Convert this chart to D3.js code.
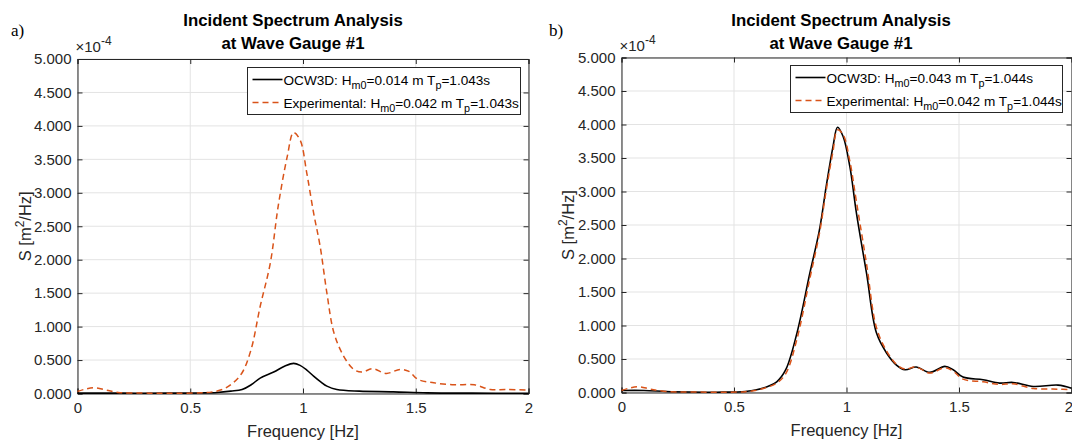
<!DOCTYPE html>
<html><head><meta charset="utf-8">
<script src="https://cdn.jsdelivr.net/npm/d3@7"></script>
<style>body{margin:0;background:#fff}text{font-family:"Liberation Sans",Arial,sans-serif}</style>
</head><body><svg id="c" width="1072" height="440"></svg>
<script>
const xTicks = [0, 0.5, 1, 1.5, 2];
const yTicks = [0, 0.5, 1, 1.5, 2, 2.5, 3, 3.5, 4, 4.5, 5];
const titleLines = ["Incident Spectrum Analysis", "at Wave Gauge #1"];
const panelLabels = ["a)", "b)"];

// values in units of 1e-4 m^2/Hz
const freqOcwA = [0,0.2,0.4,0.55,0.62,0.68,0.73,0.77,0.81,0.87,0.92,0.958,0.987,1.017,1.047,1.08,1.106,1.15,1.25,1.40,1.55,1.75,2.0];
const ocwA = [0.005,0.005,0.005,0.008,0.015,0.035,0.06,0.13,0.23,0.32,0.41,0.45,0.42,0.35,0.26,0.17,0.11,0.06,0.035,0.025,0.01,0.005,0.003];
const freqExpA = [0,0.04,0.08,0.13,0.18,0.25,0.35,0.45,0.55,0.6,0.65,0.69,0.73,0.77,0.81,0.855,0.89,0.93,0.958,0.987,1.017,1.047,1.076,1.106,1.137,1.18,1.225,1.26,1.31,1.37,1.43,1.47,1.51,1.58,1.67,1.76,1.83,1.90,2.0];
const expA = [0.03,0.07,0.085,0.05,0.015,0.008,0.005,0.005,0.01,0.025,0.07,0.16,0.31,0.66,1.30,1.95,2.80,3.54,3.90,3.79,3.29,2.70,2.20,1.50,0.91,0.56,0.36,0.32,0.37,0.30,0.36,0.33,0.21,0.16,0.13,0.13,0.06,0.06,0.05];
const freqOcwB = [0,0.1,0.2,0.3,0.45,0.55,0.6,0.65,0.69,0.73,0.78,0.837,0.88,0.91,0.94,0.96,0.985,1.015,1.044,1.089,1.133,1.178,1.222,1.26,1.31,1.37,1.437,1.474,1.518,1.607,1.68,1.74,1.83,1.94,2.0];
const ocwB = [0.03,0.03,0.015,0.008,0.005,0.015,0.04,0.09,0.16,0.34,0.89,1.78,2.43,3.08,3.67,3.96,3.82,3.37,2.68,1.78,0.89,0.59,0.41,0.34,0.38,0.30,0.39,0.34,0.23,0.19,0.14,0.15,0.09,0.11,0.065];
const freqExpB = [0,0.04,0.08,0.13,0.2,0.3,0.45,0.55,0.6,0.65,0.69,0.73,0.78,0.837,0.88,0.91,0.94,0.96,0.985,1.015,1.044,1.089,1.133,1.178,1.222,1.26,1.31,1.37,1.437,1.474,1.518,1.607,1.68,1.74,1.83,1.94,2.0];
const expB = [0.03,0.07,0.085,0.05,0.015,0.008,0.005,0.012,0.035,0.08,0.14,0.28,0.80,1.70,2.38,3.02,3.60,3.92,3.85,3.45,2.85,1.92,0.97,0.62,0.42,0.35,0.38,0.29,0.37,0.32,0.20,0.16,0.12,0.13,0.06,0.05,0.04];
const legendA = [["OCW3D: H","m0","=0.014 m T","p","=1.043s"],["Experimental: H","m0","=0.042 m T","p","=1.043s"]];
const legendB = [["OCW3D: H","m0","=0.043 m T","p","=1.044s"],["Experimental: H","m0","=0.042 m T","p","=1.044s"]];

const svg = d3.select("#c");
const AX = "#262626", ORANGE = "#D95319";

function panel(cfg){
  const x = d3.scaleLinear().domain([0,2]).range([cfg.x0, cfg.x1]);
  const y = d3.scaleLinear().domain([0,5]).range([cfg.y0, cfg.y1]);
  const g = svg.append("g");
  // grid
  g.selectAll(".gx").data(xTicks).enter().append("line")
    .attr("x1",d=>x(d)).attr("x2",d=>x(d)).attr("y1",cfg.y0).attr("y2",cfg.y1)
    .attr("stroke","#e3e3e3").attr("stroke-width",1);
  g.selectAll(".gy").data(yTicks).enter().append("line")
    .attr("y1",d=>y(d)).attr("y2",d=>y(d)).attr("x1",cfg.x0).attr("x2",cfg.x1)
    .attr("stroke","#e3e3e3").attr("stroke-width",1);
  // axes
  const ax = g.append("g").attr("transform",`translate(0,${cfg.y0})`)
    .call(d3.axisBottom(x).tickValues(xTicks).tickSize(-5).tickPadding(9).tickFormat(d3.format("")));
  const ay = g.append("g").attr("transform",`translate(${cfg.x0},0)`)
    .call(d3.axisLeft(y).tickValues(yTicks).tickSize(-5).tickPadding(6).tickFormat(d3.format(".3f")));
  const axt = g.append("g").attr("transform",`translate(0,${cfg.y1})`)
    .call(d3.axisTop(x).tickValues(xTicks).tickSize(-5).tickFormat(""));
  const ayr = g.append("g").attr("transform",`translate(${cfg.x1},0)`)
    .call(d3.axisRight(y).tickValues(yTicks).tickSize(-5).tickFormat(""));
  [ax,ay,axt,ayr].forEach(a=>{
    a.select(".domain").attr("stroke",AX).attr("stroke-width",1);
    a.selectAll(".tick line").attr("stroke",AX);
    a.selectAll("text").attr("fill",AX).style("font-size","15px").style("font-family",'"Liberation Sans",Arial,sans-serif');
  });
  if (cfg.clipLast) {
    ax.selectAll(".tick").filter(d=>d===2).select("text").attr("text-anchor","end").attr("x",1);
  }
  // lines
  const line = d3.line().x(d=>x(d[0])).y(d=>y(d[1])).curve(d3.curveCatmullRom.alpha(0.5));
  g.append("path").datum(d3.zip(cfg.fo, cfg.o)).attr("d",line)
    .attr("fill","none").attr("stroke","#000").attr("stroke-width",1.6);
  g.append("path").datum(d3.zip(cfg.fe, cfg.e)).attr("d",line)
    .attr("fill","none").attr("stroke",ORANGE).attr("stroke-width",1.5).attr("stroke-dasharray","6,4");
  // exponent
  const ex = g.append("text").attr("x",cfg.x0-2).attr("y",cfg.y1-7).attr("fill",AX).style("font-size","15px");
  ex.append("tspan").text("×10");
  ex.append("tspan").attr("dy",-7).style("font-size","12px").text("-4");
  // axis labels
  g.append("text").attr("x",(cfg.x0+cfg.x1)/2).attr("y",cfg.y0+43).attr("text-anchor","middle")
    .attr("fill",AX).style("font-size","16.5px").text("Frequency [Hz]");
  const yl = g.append("text").attr("transform",`translate(${cfg.ylx},${(cfg.y0+cfg.y1)/2}) rotate(-90)`)
    .attr("text-anchor","middle").attr("fill",AX).style("font-size","16.5px");
  yl.append("tspan").text("S [m");
  yl.append("tspan").attr("dy",-7).style("font-size","12px").text("2");
  yl.append("tspan").attr("dy",7).text("/Hz]");
  // title
  titleLines.forEach((t,i)=>{
    g.append("text").attr("x",cfg.tx).attr("y",26+i*23).attr("text-anchor","middle")
      .attr("fill","#000").style("font-size","16.8px").style("font-weight","bold").text(t);
  });
  g.append("text").attr("x",cfg.px).attr("y",36).attr("fill","#000")
    .style("font-family",'"Liberation Serif","DejaVu Serif",serif').style("font-size","17px").text(cfg.label);
  // legend
  const lg = g.append("g");
  lg.append("rect").attr("x",cfg.lx).attr("y",cfg.ly).attr("width",cfg.lw).attr("height",47)
    .attr("fill","#fff").attr("stroke",AX).attr("stroke-width",1);
  cfg.leg.forEach((parts,i)=>{
    const yy = cfg.ly + 12 + i*23;
    lg.append("line").attr("x1",cfg.lx+5).attr("x2",cfg.lx+35).attr("y1",yy).attr("y2",yy)
      .attr("stroke", i===0?"#000":ORANGE).attr("stroke-width",i===0?1.6:1.5)
      .attr("stroke-dasharray", i===0?null:"6,4");
    const t = lg.append("text").attr("x",cfg.lx+36).attr("y",yy+5).attr("fill","#000").style("font-size","13.6px");
    t.append("tspan").text(parts[0]);
    t.append("tspan").attr("dy",4.5).style("font-size","10.8px").text(parts[1]);
    t.append("tspan").attr("dy",-4.5).text(parts[2]);
    t.append("tspan").attr("dy",4.5).style("font-size","10.8px").text(parts[3]);
    t.append("tspan").attr("dy",-4.5).text(parts[4]);
  });
}

panel({x0:77.5,x1:528.5,y0:393.5,y1:59,fo:freqOcwA,o:ocwA,fe:freqExpA,e:expA,leg:legendA,
  lx:247.5,ly:67.5,lw:273,tx:293,px:11,label:panelLabels[0],ylx:31,clipLast:false});
panel({x0:621.5,x1:1071.5,y0:392.5,y1:57.5,fo:freqOcwB,o:ocwB,fe:freqExpB,e:expB,leg:legendB,
  lx:790.5,ly:65.5,lw:272,tx:841,px:549,label:panelLabels[1],ylx:574,clipLast:true});
</script></body></html>
